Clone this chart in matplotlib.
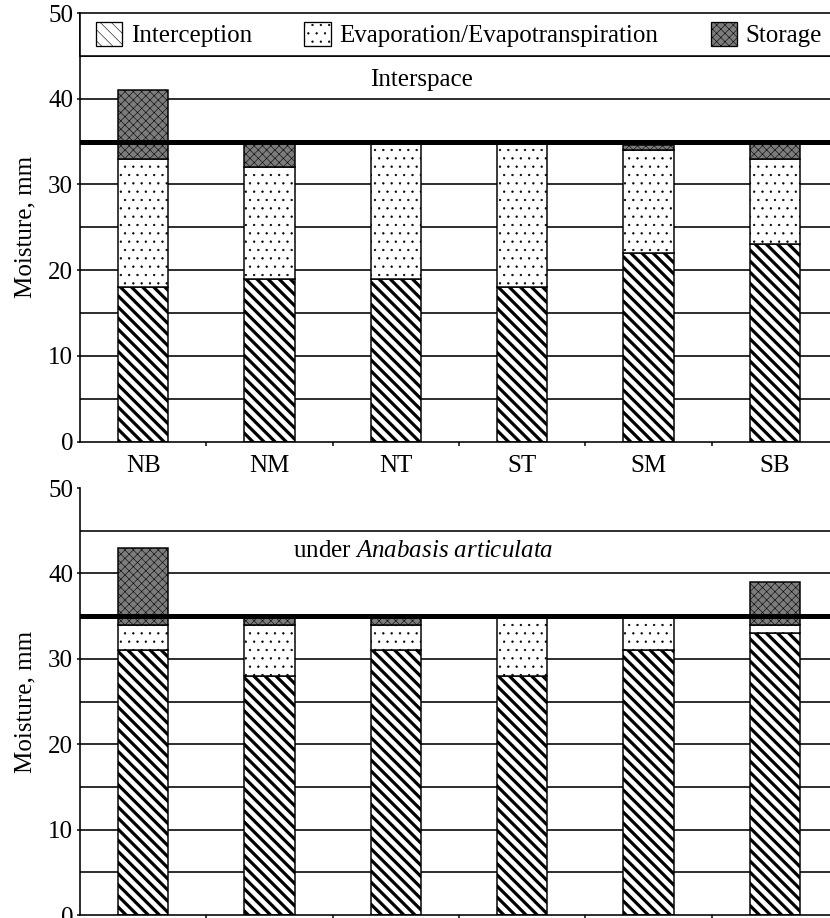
import matplotlib
matplotlib.use('Agg')
import numpy as np
import matplotlib.pyplot as plt
from matplotlib.patches import Patch, Rectangle

plt.rcParams['font.family'] = 'Liberation Serif'
plt.rcParams['mathtext.fontset'] = 'custom'
plt.rcParams['mathtext.rm'] = 'Liberation Serif'
plt.rcParams['mathtext.it'] = 'Liberation Serif:italic'


# data (mm):
cats          = ['NB', 'NM', 'NT', 'ST', 'SM', 'SB']
top_intercept = [18, 19, 19, 18, 22, 23]
top_evap      = [15, 13, 16, 17, 12, 10]
top_storage   = [8, 3, 0, 0, 0.6, 2]
bot_intercept = [31, 28, 31, 28, 31, 33]
bot_evap      = [3, 6, 3, 7, 4, 1]
bot_storage   = [9, 1, 1, 0, 0, 5]
series_names  = ['Interception', 'Evaporation/Evapotranspiration', 'Storage']
threshold     = 35


DPI  = 100
P    = 72 / DPI      # points per pixel, sizes below are given in pixels
FS   = 25 * P
AXW  = 758 / 830     # axes run past the right edge of the picture
styles = [dict(facecolor='white', hatch='\\\\\\', hlw=3.2 * P),
          dict(facecolor='white', hatch='..', hlw=0.6 * P),
          dict(facecolor='#7c7c7c', hatch='xxxx', hlw=0.55 * P)]


def set_hlw(p, lw):
	if hasattr(p, 'set_hatch_linewidth'):
		p.set_hatch_linewidth(lw)
	else:
		plt.rcParams['hatch.linewidth'] = lw


def panel(ax, inter, evap, stor, show_labels):
	x      = np.arange(len(cats))
	bottom = np.zeros(len(cats))
	for vals, st in zip([inter, evap, stor], styles):
		plt.rcParams['hatch.linewidth'] = st['hlw']
		bars = ax.bar(x, vals, width=0.40, bottom=bottom, facecolor=st['facecolor'],
					  edgecolor='black', linewidth=1.5 * P, hatch=st['hatch'], zorder=2)
		for b in bars:
			set_hlw(b, st['hlw'])
		bottom = bottom + np.array(vals)
	for y in range(5, 50, 5):
		ax.axhline(y, color='black', lw=1.6 * P, zorder=1)
	ax.axhline(threshold, color='black', lw=5 * P, zorder=5)
	ax.set_xlim(-0.5, 5.5)
	ax.set_ylim(0, 50)
	ax.set_yticks(range(0, 51, 10))
	ax.tick_params(axis='y', direction='out', length=3 * P, width=1.5 * P, labelsize=FS, pad=4 * P)
	ax.set_xticks(x)
	ax.set_xticklabels(cats if show_labels else [''] * len(cats), fontsize=FS)
	ax.tick_params(axis='x', which='major', length=0, pad=13 * P)
	ax.set_xticks(x + 0.5, minor=True)
	ax.tick_params(axis='x', which='minor', direction='out', length=4 * P, width=1.5 * P)
	for s in ['top', 'right']:
		ax.spines[s].set_visible(False)
	for s in ['left', 'bottom']:
		ax.spines[s].set_linewidth(1.6 * P)
	ax.set_ylabel('Moisture, mm', fontsize=FS)
	ax.yaxis.set_label_coords(-0.058, 0.5)


fig = plt.figure(figsize=(830 / DPI, 918 / DPI), dpi=DPI)
ax1 = fig.add_axes([80 / 830, 476.3 / 918, AXW, 428.7 / 918])
ax2 = fig.add_axes([80 / 830, 3 / 918, AXW, 427 / 918])

panel(ax1, top_intercept, top_evap, top_storage, True)
panel(ax2, bot_intercept, bot_evap, bot_storage, False)

ax1.text(0.451, 42.2, 'Interspace', transform=ax1.get_yaxis_transform(),
		 ha='center', va='center', fontsize=FS)
ax2.text(0.4525, 42.6, r'under $\mathit{Anabasis\ articulata}$', transform=ax2.get_yaxis_transform(),
		 ha='center', va='center', fontsize=FS)

# legend box across the top of the upper panel
ax1.add_patch(Rectangle((0, 0.9), 1.0, 0.1, transform=ax1.transAxes, facecolor='white',
						edgecolor='black', lw=1.6 * P, zorder=6, clip_on=False))
handles = []
for st in styles:
	plt.rcParams['hatch.linewidth'] = st['hlw']
	h = Patch(facecolor=st['facecolor'], edgecolor='black', hatch=st['hatch'], lw=1.3 * P)
	set_hlw(h, st['hlw'])
	handles.append(h)
leg = ax1.legend(handles, series_names, loc='center', bbox_to_anchor=(16 / 758, 0.9, 726 / 758, 0.1),
				 mode='expand', ncol=3, frameon=False, borderaxespad=0, borderpad=0.0,
				 handlelength=1.05, handleheight=1.1, handletextpad=0.35, fontsize=FS)
leg.set_zorder(7)

fig.savefig('out.png', dpi=DPI)
